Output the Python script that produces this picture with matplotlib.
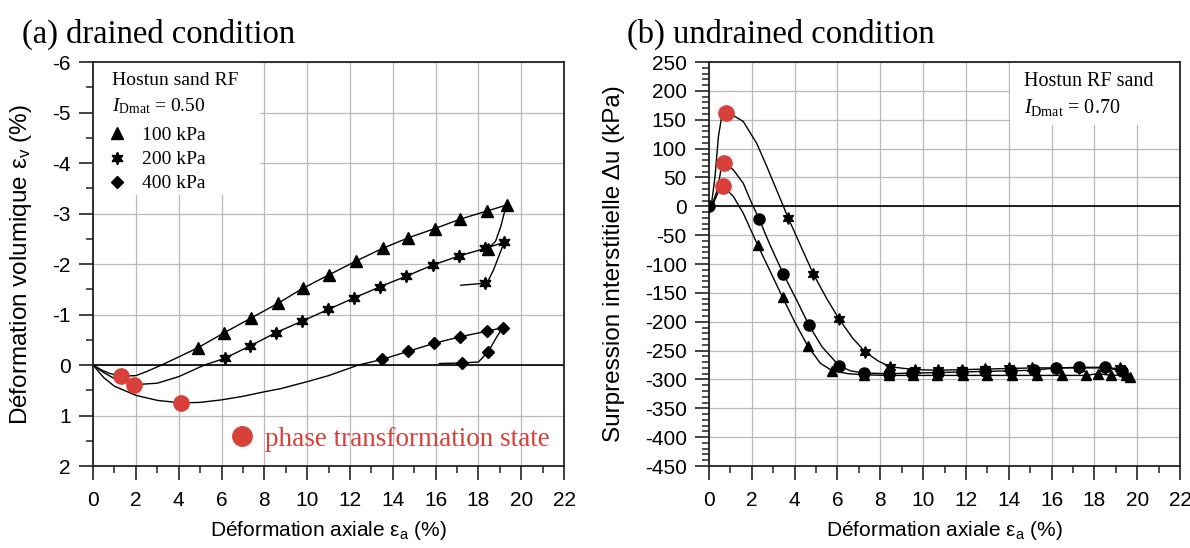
import matplotlib
matplotlib.use("Agg")
import matplotlib.pyplot as plt
from matplotlib.lines import Line2D
from matplotlib.patches import Rectangle
from matplotlib.ticker import MultipleLocator

plt.rcParams['font.family'] = 'Liberation Sans'
plt.rcParams['axes.unicode_minus'] = False
plt.rcParams['mathtext.fontset'] = 'custom'
plt.rcParams['mathtext.rm'] = 'Liberation Serif'
plt.rcParams['mathtext.it'] = 'Liberation Serif:italic'
plt.rcParams['mathtext.sf'] = 'Liberation Sans'

RED = '#d8403a'
STAR6 = (6, 1, 0)   # six-pointed star marker
SERIF = 'Liberation Serif'

# ---------------- (a) drained tests: axial strain vs volumetric strain (%) ----------------
# curve paths (contraction positive)
ea_100 = [0, 0.4, 0.8, 1.3, 2.0, 2.5, 3.2, 4.0, 4.89, 6.13, 7.38, 8.63, 9.8, 11.04, 12.29,
          13.52, 14.73, 15.95, 17.16, 18.4, 19.33, 19.2, 19.05, 18.8, 18.45]
ev_100 = [0, 0.1, 0.17, 0.22, 0.21, 0.13, 0.0, -0.16, -0.34, -0.64, -0.93, -1.22, -1.52, -1.79, -2.06,
          -2.31, -2.52, -2.70, -2.89, -3.05, -3.17, -3.0, -2.75, -2.45, -2.3]
ea_200 = [0, 0.5, 1.0, 1.9, 3.0, 4.0, 5.2, 6.14, 7.34, 8.54, 9.77, 10.98, 12.2, 13.41, 14.63,
          15.87, 17.1, 18.32, 19.2, 18.94, 18.7, 18.47, 18.32, 17.18]
ev_200 = [0, 0.15, 0.27, 0.39, 0.36, 0.23, 0.0, -0.13, -0.38, -0.64, -0.87, -1.10, -1.33, -1.55, -1.76,
          -1.98, -2.16, -2.31, -2.43, -2.14, -1.88, -1.68, -1.62, -1.58]
ea_400 = [0, 0.5, 1.0, 2.0, 3.0, 4.1, 5.0, 6.0, 7.0, 8.0, 8.74, 10.0, 11.0, 12.4, 13.49, 14.71,
          15.93, 17.15, 18.4, 19.13, 18.86, 18.63, 18.43, 18.16, 18.0, 17.21, 16.17]
ev_400 = [0, 0.25, 0.42, 0.6, 0.7, 0.75, 0.74, 0.69, 0.62, 0.53, 0.47, 0.33, 0.21, 0.0, -0.11, -0.27,
          -0.43, -0.56, -0.67, -0.74, -0.56, -0.39, -0.26, -0.13, -0.06, -0.04, -0.03]

# measured points
ea_100_pts = [4.89, 6.13, 7.38, 8.63, 9.8, 11.04, 12.29, 13.52, 14.73, 15.95, 17.16, 18.4, 19.33, 18.45]
ev_100_pts = [-0.34, -0.64, -0.93, -1.22, -1.52, -1.79, -2.06, -2.31, -2.52, -2.70, -2.89, -3.05, -3.17, -2.3]
ea_200_pts = [6.14, 7.34, 8.54, 9.77, 10.98, 12.2, 13.41, 14.63, 15.87, 17.1, 18.32, 19.2, 18.32]
ev_200_pts = [-0.13, -0.38, -0.64, -0.87, -1.10, -1.33, -1.55, -1.76, -1.98, -2.16, -2.31, -2.43, -1.62]
ea_400_pts = [13.49, 14.71, 15.93, 17.15, 18.4, 19.13, 18.43, 17.21]
ev_400_pts = [-0.11, -0.27, -0.43, -0.56, -0.67, -0.74, -0.26, -0.04]

# phase transformation states
ea_pt_dr = [1.3, 1.9, 4.1]
ev_pt_dr = [0.22, 0.39, 0.75]

# ---------------- (b) undrained tests: axial strain vs excess pore pressure (kPa) ----------------
ea_star = [0, 0.12, 0.28, 0.44, 0.59, 0.78, 1.1, 1.6, 2.23, 2.7, 3.16, 3.71, 4.3, 4.87, 5.5, 6.07,
           6.7, 7.29, 7.9, 8.46, 9.6, 10.7, 11.8, 12.9, 14.0, 15.1, 16.2, 17.3, 18.5, 19.2]
du_star = [0, 5, 51, 121, 155, 161, 158, 147, 109, 69, 28, -21, -70, -117, -160, -195,
           -228, -252, -268, -278, -283, -284, -283, -282, -281, -280, -280, -280, -280, -281]
ea_circ = [0, 0.2, 0.4, 0.55, 0.72, 1.14, 1.6, 2.0, 2.34, 2.85, 3.47, 4.1, 4.67, 5.27, 6.07, 6.6,
           7.26, 8.4, 9.5, 10.7, 11.8, 12.9, 14.1, 15.2, 16.2, 17.3, 18.5, 19.3]
du_circ = [0, 8, 30, 62, 75, 63, 40, 5, -22, -67, -117, -163, -206, -243, -276, -285,
           -289, -290, -289, -288, -287, -286, -285, -284, -280, -279, -279, -286]
ea_tri = [0, 0.2, 0.4, 0.64, 1.14, 1.6, 2.27, 2.85, 3.44, 4.0, 4.61, 5.2, 5.76, 6.5, 7.22, 8.39,
          9.52, 10.66, 11.85, 13.0, 14.13, 15.3, 16.5, 17.6, 18.16, 18.8, 19.5, 19.66]
du_tri = [0, 5, 22, 36, 17, -12, -67, -112, -158, -200, -242, -272, -285, -290, -292, -293,
          -293, -293, -293, -293, -293, -293, -293, -293, -290, -293, -292, -295]

ea_star_pts = [3.71, 4.87, 6.07, 7.29, 8.46, 9.6, 10.7, 11.8, 12.9, 14.0, 15.1, 16.2, 17.3, 18.5, 19.2]
du_star_pts = [-21, -117, -195, -252, -278, -283, -284, -283, -282, -281, -280, -280, -280, -280, -281]
ea_circ_pts = [0, 2.34, 3.47, 4.67, 6.07, 7.26, 8.4, 9.5, 10.7, 11.8, 12.9, 14.1, 15.2, 16.2, 17.3, 18.5, 19.3]
du_circ_pts = [0, -22, -117, -206, -276, -289, -290, -289, -288, -287, -286, -285, -284, -280, -279, -279, -286]
ea_tri_pts = [2.27, 3.44, 4.61, 5.76, 7.22, 8.39, 9.52, 10.66, 11.85, 13.0, 14.13, 15.3, 16.5, 17.6,
              18.16, 18.8, 19.5, 19.66]
du_tri_pts = [-67, -158, -242, -285, -292, -293, -293, -293, -293, -293, -293, -293, -293, -293,
              -290, -293, -292, -295]

ea_pt_ud = [0.78, 0.72, 0.64]
du_pt_ud = [161, 75, 36]


def style_axes(ax):
    ax.set_xlim(0, 22)
    ax.xaxis.set_major_locator(MultipleLocator(2))
    ax.xaxis.set_minor_locator(MultipleLocator(1))
    ax.grid(True, which='major', color='#b8b8b8', lw=0.9)
    ax.set_axisbelow(True)
    ax.axhline(0, color='black', lw=1.2, zorder=1.6)
    for sp in ax.spines.values():
        sp.set_linewidth(1.3)
        sp.set_color('#222222')
    ax.tick_params(which='major', direction='out', length=10, width=1.2, labelsize=15,
                   colors='#222222', labelcolor='black')
    ax.tick_params(which='minor', direction='out', length=5, width=1.1, colors='#222222')
    ax.tick_params(axis='x', pad=8)
    ax.tick_params(axis='y', pad=6)
    ax.set_xlabel('Déformation axiale ε$_\\mathsf{a}$ (%)', fontsize=15)
    ax.xaxis.set_label_coords(0.5, -0.13)


fig = plt.figure(figsize=(11.9, 5.48), dpi=100)
ax1 = fig.add_axes([0.0782, 0.1496, 0.3958, 0.7372])
ax2 = fig.add_axes([0.5958, 0.1496, 0.3958, 0.7372])

# ---- panel (a)
style_axes(ax1)
ax1.set_ylim(2, -6)
ax1.yaxis.set_major_locator(MultipleLocator(1))
ax1.yaxis.set_minor_locator(MultipleLocator(0.5))
ax1.set_ylabel('Déformation volumique ε$_\\mathsf{v}$ (%)', fontsize=17.5)
ax1.yaxis.set_label_coords(-0.125, 0.5)

for ea, ev in [(ea_100, ev_100), (ea_200, ev_200), (ea_400, ev_400)]:
    ax1.plot(ea, ev, color='black', lw=1.0, zorder=2)
ax1.plot(ea_100_pts, ev_100_pts, ls='none', marker='^', ms=8, color='black', zorder=3)
ax1.plot(ea_200_pts, ev_200_pts, ls='none', marker=STAR6, ms=9, color='black', zorder=3)
ax1.plot(ea_400_pts, ev_400_pts, ls='none', marker='D', ms=6.5, color='black', zorder=3)
ax1.plot(ea_pt_dr, ev_pt_dr, ls='none', marker='o', ms=11, color=RED, zorder=4)

ax1.add_patch(Rectangle((0, 0.671), 0.355, 0.329, transform=ax1.transAxes,
                        facecolor='white', edgecolor='none', zorder=1.8))
ax1.text(0.0397, 0.943, 'Hostun sand RF', transform=ax1.transAxes, family=SERIF,
         fontsize=14, va='baseline', zorder=5)
ax1.text(0.0397, 0.879, r'$I_{\mathrm{Dmat}}$ = 0.50', transform=ax1.transAxes, family=SERIF,
         fontsize=14, va='baseline', zorder=5)

handles = [Line2D([], [], ls='none', marker='^', ms=8, color='black'),
           Line2D([], [], ls='none', marker=STAR6, ms=9, color='black'),
           Line2D([], [], ls='none', marker='D', ms=6.5, color='black')]
leg = ax1.legend(handles, ['100 kPa', '200 kPa', '400 kPa'], loc='upper left',
                 bbox_to_anchor=(0.038, 0.84), frameon=False,
                 prop={'family': SERIF, 'size': 14}, handlelength=0.6, handletextpad=1.0,
                 borderpad=0, borderaxespad=0, labelspacing=0.33)
ax1.add_artist(leg)

pt_handle = Line2D([], [], ls='none', marker='o', ms=14, color=RED)
ax1.legend([pt_handle], ['phase transformation state'], loc='center left',
           bbox_to_anchor=(0.291, 0.066), frameon=False, prop={'family': SERIF, 'size': 19.5},
           labelcolor=RED, handlelength=0.85, handletextpad=0.45, borderpad=0, borderaxespad=0)

# ---- panel (b)
style_axes(ax2)
ax2.set_ylim(-450, 250)
ax2.yaxis.set_major_locator(MultipleLocator(50))
ax2.yaxis.set_minor_locator(MultipleLocator(10))
ax2.set_ylabel('Surpression interstitielle Δu (kPa)', fontsize=17.5)
ax2.yaxis.set_label_coords(-0.178, 0.5)

for ea, du in [(ea_star, du_star), (ea_circ, du_circ), (ea_tri, du_tri)]:
    ax2.plot(ea, du, color='black', lw=1.0, zorder=2)
ax2.plot(ea_tri_pts, du_tri_pts, ls='none', marker='^', ms=7.5, color='black', zorder=3)
ax2.plot(ea_circ_pts, du_circ_pts, ls='none', marker='o', ms=8, color='black', zorder=3)
ax2.plot(ea_star_pts, du_star_pts, ls='none', marker=STAR6, ms=8.5, color='black', zorder=3)
ax2.plot(ea_pt_ud, du_pt_ud, ls='none', marker='o', ms=11, color=RED, zorder=4)

ax2.add_patch(Rectangle((0.639, 0.844), 0.361, 0.156, transform=ax2.transAxes,
                        facecolor='white', edgecolor='none', zorder=1.8))
ax2.text(0.669, 0.9406, 'Hostun RF sand', transform=ax2.transAxes, family=SERIF,
         fontsize=14.5, va='baseline', zorder=5)
ax2.text(0.669, 0.873, r'$I_{\mathrm{Dmat}}$ = 0.70', transform=ax2.transAxes, family=SERIF,
         fontsize=14.5, va='baseline', zorder=5)

# panel titles
fig.text(0.0185, 0.9215, '(a) drained condition', family=SERIF, fontsize=23.5, va='baseline')
fig.text(0.527, 0.9215, '(b) undrained condition', family=SERIF, fontsize=23.5, va='baseline')

fig.savefig('out.png', dpi=100)
